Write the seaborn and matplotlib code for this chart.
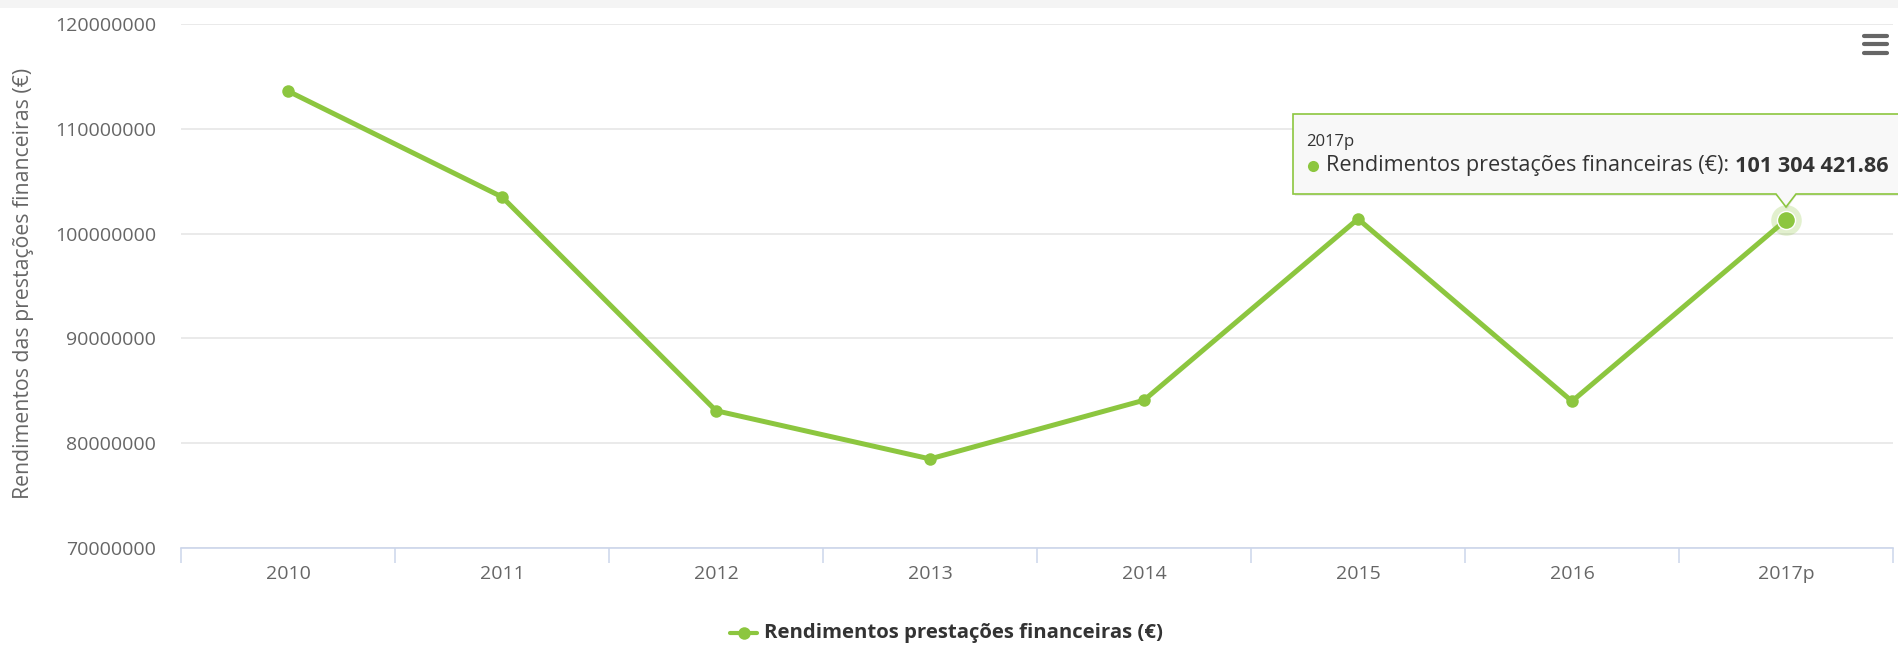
import matplotlib
matplotlib.use("Agg")
import matplotlib.pyplot as plt
from matplotlib.patches import Rectangle, Polygon
from matplotlib.lines import Line2D
import seaborn as sns
import pandas as pd

# Dados
anos = ["2010", "2011", "2012", "2013", "2014", "2015", "2016", "2017p"]
rendimentos = [113600000, 103500000, 83100000, 78500000, 84100000,
               101400000, 84000000, 101304421.86]
serie = "Rendimentos prestações financeiras (€)"
y_label = "Rendimentos das prestações financeiras (€)"
y_ticks = [70000000, 80000000, 90000000, 100000000, 110000000, 120000000]

VERDE = "#8cc63f"
CINZA = "#666666"

sns.set_theme(style="white")
plt.rcParams["font.family"] = ["Open Sans", "DejaVu Sans"]

W, H = 1898, 647
fig = plt.figure(figsize=(W / 100, H / 100), dpi=100)
fig.patch.set_facecolor("white")
# faixa cinzenta no topo
fig.add_artist(Rectangle((0, 1 - 8 / H), 1, 8 / H, transform=fig.transFigure,
                         facecolor="#f4f4f4", edgecolor="none"))

ax = fig.add_axes([181 / W, 1 - 548 / H, (1893 - 181) / W, (548 - 24) / H])

df = pd.DataFrame({"ano": range(len(anos)), "valor": rendimentos})
sns.lineplot(data=df, x="ano", y="valor", ax=ax, color=VERDE, linewidth=3.6,
             marker="o", markersize=9, markeredgewidth=0, sort=False, zorder=3)

ax.set_xlim(-0.5, len(anos) - 0.5)
ax.set_ylim(y_ticks[0], y_ticks[-1])
ax.set_yticks(y_ticks)
ax.set_yticklabels([str(v) for v in y_ticks])
ax.set_xticks(range(len(anos)))
ax.set_xticklabels(anos)
ax.set_xticks([i - 0.5 for i in range(len(anos) + 1)], minor=True)
ax.tick_params(axis="x", which="major", length=0, pad=12, labelsize=14, labelcolor=CINZA)
ax.tick_params(axis="x", which="minor", bottom=True, length=11, width=1.1,
               color="#ccd6eb", direction="out")
ax.tick_params(axis="y", length=0, pad=18, labelsize=14, labelcolor=CINZA)
ax.yaxis.grid(True, color="#e6e6e6", linewidth=1.2)
ax.set_axisbelow(True)
for s in ["top", "right", "left"]:
    ax.spines[s].set_visible(False)
ax.spines["bottom"].set_color("#ccd6eb")
ax.spines["bottom"].set_linewidth(1.2)
ax.set_xlabel("")
ax.set_ylabel("")
fig.text(24 / W, 1 - 283 / H, y_label, rotation=90, ha="center", va="center",
         fontsize=15.3, color=CINZA)

# ponto destacado (2017p)
ax.plot([len(anos) - 1], [rendimentos[-1]], "o", color=VERDE, markersize=22,
        alpha=0.25, markeredgewidth=0, zorder=4)
ax.plot([len(anos) - 1], [rendimentos[-1]], "o", color=VERDE, markersize=13,
        markeredgecolor="white", markeredgewidth=1, zorder=5)

# tooltip
x0, x1, yt, yb = 1293 / W, 1.02, 1 - 114 / H, 1 - 194 / H
tip_x = 1786 / W
tip_y = 1 - 207 / H
sombra = Polygon([(x0 + 2 / W, yt - 2 / H), (x1, yt - 2 / H), (x1, yb - 2 / H),
                  (tip_x + 10 / W, yb - 2 / H), (tip_x + 1 / W, tip_y - 2 / H),
                  (tip_x - 8 / W, yb - 2 / H), (x0 + 2 / W, yb - 2 / H)],
                 closed=True, transform=fig.transFigure, facecolor="#000000",
                 alpha=0.08, edgecolor="none", zorder=9)
caixa = Polygon([(x0, yt), (x1, yt), (x1, yb), (tip_x + 10 / W, yb), (tip_x, tip_y),
                 (tip_x - 10 / W, yb), (x0, yb)],
                closed=True, transform=fig.transFigure, facecolor="#f8f8f8",
                edgecolor=VERDE, linewidth=1.2, zorder=10)
fig.add_artist(sombra)
fig.add_artist(caixa)
fig.text(1306 / W, 1 - 142 / H, anos[-1], fontsize=12, color="#333333",
         va="center", ha="left", zorder=11)
fig.add_artist(Line2D([1313 / W], [1 - 166 / H], marker="o", color=VERDE,
                      markersize=8, markeredgewidth=0, transform=fig.transFigure, zorder=11))
t1 = fig.text(1326 / W, 1 - 166 / H, serie + ": ", fontsize=15.6, color="#333333",
              va="center", ha="left", zorder=11)
fig.canvas.draw()
bb = t1.get_window_extent(renderer=fig.canvas.get_renderer())
valor_txt = f"{rendimentos[-1]:,.2f}".replace(",", " ")
fig.text(bb.x1 / W, 1 - 166 / H, valor_txt, fontsize=15.6, color="#333333",
         fontweight="bold", va="center", ha="left", zorder=11)

# menu
for yy in [36, 44, 53]:
    fig.add_artist(Line2D([1864 / W, 1887 / W], [1 - yy / H, 1 - yy / H], color=CINZA,
                          linewidth=3, solid_capstyle="round", transform=fig.transFigure))

# legenda
fig.add_artist(Line2D([730 / W, 757 / W], [1 - 633 / H, 1 - 633 / H], color=VERDE,
                      linewidth=3, transform=fig.transFigure))
fig.add_artist(Line2D([743.5 / W], [1 - 633 / H], marker="o", color=VERDE, markersize=9,
                      markeredgewidth=0, transform=fig.transFigure))
fig.text(764 / W, 1 - 633 / H, serie, fontsize=14.7, fontweight="bold", color="#333333",
         va="center", ha="left")

fig.savefig("out.png", dpi=100)
